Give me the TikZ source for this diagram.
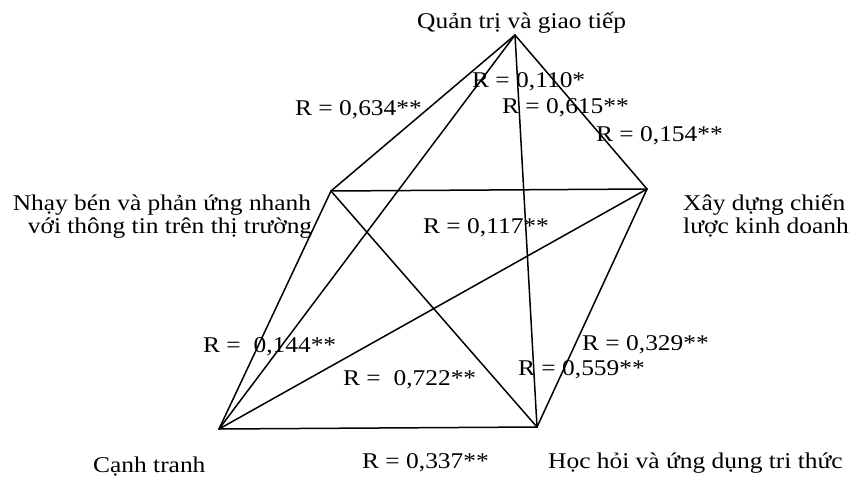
\documentclass[tikz,border=0pt]{standalone}
\usepackage{fontspec}
\setmainfont{Liberation Serif}[FakeStretch=1.13]
\begin{document}
\begin{tikzpicture}[x=1pt,y=-1pt,
  edge/.style={line width=1.5pt,line join=round,line cap=round},
  lbl/.style={anchor=base west,inner sep=0pt,font=\fontsize{22.5}{26}\selectfont}]
\useasboundingbox (0,0) rectangle (856,479);
\coordinate (vT) at (515,35);
\coordinate (vL) at (331,191);
\coordinate (vR) at (647,189);
\coordinate (vBL) at (219,429);
\coordinate (vBR) at (537,427);
\draw[edge] (vT) -- (vL);
\draw[edge] (vT) -- (vR);
\draw[edge] (vT) -- (vBL);
\draw[edge] (vT) -- (vBR);
\draw[edge] (vL) -- (vR);
\draw[edge] (vL) -- (vBL);
\draw[edge] (vL) -- (vBR);
\draw[edge] (vR) -- (vBL);
\draw[edge] (vR) -- (vBR);
\draw[edge] (vBL) -- (vBR);
\node[lbl] (title) at (417,28) {Quản trị và giao tiếp};
\node[lbl] (r634) at (295,115) {R = 0,634**};
\node[lbl] (r110) at (472,87) {R = 0,110*};
\node[lbl] (r615) at (502,113) {R = 0,615**};
\node[lbl] (r154) at (596,141) {R = 0,154**};
\node[lbl,anchor=base] (nhay1) at (162,210) {Nhạy bén và phản ứng nhanh};
\node[lbl,anchor=base] (nhay2) at (170,233) {với thông tin trên thị trường};
\node[lbl] (xay1) at (683,210) {Xây dựng chiến};
\node[lbl] (xay2) at (683,233) {lược kinh doanh};
\node[lbl] (r117) at (423,233) {R = 0,117**};
\node[lbl] (r144) at (203,352) {R =\ \ 0,144**};
\node[lbl] (r722) at (343,385) {R =\ \ 0,722**};
\node[lbl] (r559) at (518,375) {R = 0,559**};
\node[lbl] (r329) at (582,350) {R = 0,329**};
\node[lbl] (r337) at (362,468) {R = 0,337**};
\node[lbl] (canh) at (93,472) {Cạnh tranh};
\node[lbl] (hoc) at (548,468) {Học hỏi và ứng dụng tri thức};
\end{tikzpicture}
\end{document}
